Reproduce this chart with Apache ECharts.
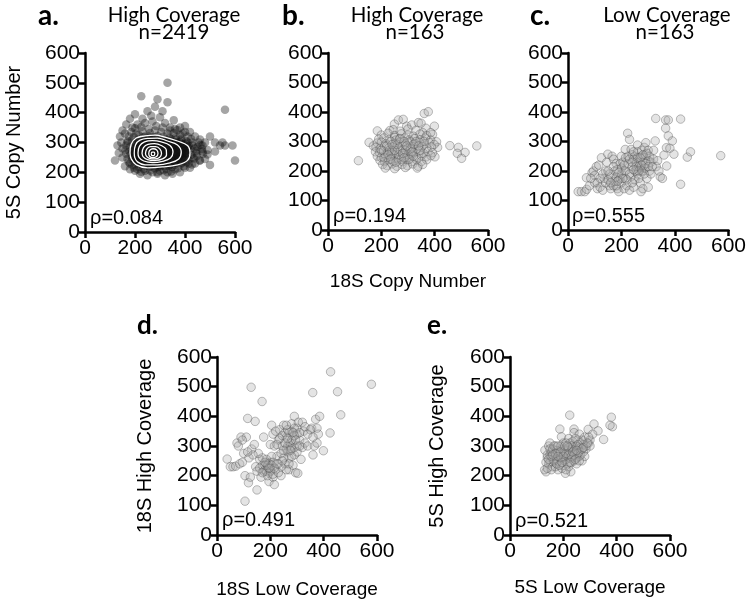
<!DOCTYPE html>
<html>
<head>
<meta charset="utf-8">
<script src="https://cdn.jsdelivr.net/npm/echarts@6.0.0/dist/echarts.min.js"></script>
<style>
  html, body { margin: 0; padding: 0; background: #fff; }
  #main { width: 749px; height: 604px; }
</style>
</head>
<body>
<div id="main"></div>
<script>
// panel a: 5S vs 18S, high coverage (representative subset of the 2419 points)
var pointsA = [
  [330,500],[225,455],[290,445],[330,435],[280,420],[560,410],[250,405],[310,405],[200,395],[265,390],
  [355,375],[180,380],[230,380],[300,385],[400,355],[380,350],[420,335],[165,360],[150,340],[140,320],
  [130,290],[120,240],[135,265],[145,300],[440,320],[460,310],[480,300],[500,320],[520,300],[540,290],
  [560,290],[590,290],[600,240],[490,260],[470,270],[460,240],[440,230],[500,225],[420,215],[380,200],
  [350,195],[320,190],[290,195],[250,190],[220,195],[200,205],[180,210],[160,220],[150,250],[170,300],
  [160,330],[190,350],[210,360],[240,365],[270,370],[320,365],[340,350],[360,345],[450,285],[430,300],
  [470,290],[520,270],[550,300],[480,245],[150,280],[175,235],[190,225],[210,210],[240,205],[270,200],
  [300,205],[330,200],[360,210],[400,215],[415,230],[430,250],[445,265],[410,320],[390,330],
  [200,348],[225,352],[255,345],[285,355],[310,350],[340,340],[370,342],
  [185,335],[205,330],[230,338],[260,332],[280,340],[305,335],[330,330],[355,332],[380,325],[400,335],
  [175,320],[195,318],[215,325],[240,320],[262,318],[290,322],[315,320],[338,315],[362,318],[385,310],[405,305],[425,312],
  [170,305],[188,308],[205,300],[228,306],[248,302],[270,308],[295,304],[318,300],[342,306],[365,300],[388,295],[410,300],[430,290],[455,300],
  [165,290],[180,285],[198,292],[218,288],[238,294],[258,286],[278,292],[300,288],[322,294],[345,286],[368,290],[392,284],[415,288],[438,280],[462,292],
  [162,275],[178,270],[196,278],[214,272],[232,280],[252,274],[272,278],[292,270],[312,276],[334,272],[356,280],[378,274],[400,270],[422,276],[445,272],[468,278],[490,275],
  [165,262],[182,258],[200,264],[218,256],[236,262],[255,258],[275,264],[295,256],[315,262],[337,258],[358,264],[380,256],[402,262],[425,258],[448,255],[472,262],
  [170,245],[188,248],[206,242],[224,250],[244,244],[264,248],[284,242],[304,250],[326,244],[348,248],[370,242],[392,248],[414,242],[436,246],[458,240],
  [180,230],[198,234],[216,228],[236,232],[256,226],[276,234],[296,228],[318,232],[340,226],[362,232],[384,228],[406,234],[428,226],
  [195,215],[215,218],[235,212],[258,218],[280,214],[302,220],[325,212],[348,218],[372,214],[395,220],
  [225,202],[260,206],[290,200],[315,207],[345,203],
  [200,250],[215,265],[225,280],[240,295],[255,305],[270,295],[285,280],[300,265],[315,250],[330,240],
  [345,255],[360,270],[375,285],[390,265],[400,250],[385,240],[365,235],[340,262],[320,280],[305,298],
  [290,310],[270,315],[250,290],[235,270],[220,245],[210,235],[230,230],[250,238],[270,245],[290,250],
  [310,235],[330,292],[350,300],[360,250],[380,300],[395,280],[405,265],[205,285],[215,300],[235,310],
  [260,270],[280,260],[300,280],[320,265],[340,275],[355,290],[370,260],[250,255],[265,285],[280,300],
  [295,240],[245,225],[225,255],[210,272],[195,262],[325,305],[345,295],[365,310],[260,240],[275,230],
  [300,225],[325,228],[350,238],[372,248],[390,255],[240,283],[255,300],[285,268],[310,285],[330,255],
  [345,245],[220,300],[200,240],[410,275],[395,295],
  [190,270],[205,258],[215,282],[228,295],[242,305],[258,312],[275,305],[292,296],[308,290],[322,298],
  [338,305],[352,280],[366,275],[380,270],[395,260],[388,248],[372,238],[356,242],[338,235],[318,240],
  [298,232],[278,238],[258,232],[238,245],[222,238],[206,248],[196,280],[212,292],[230,262],[248,270],
  [268,262],[288,258],[305,270],[325,272],[345,268],[362,285],[378,292],[395,285],[410,260],[402,240],
  [385,232],[360,225],[335,222],[310,226],[285,222],[262,228],[240,230],[220,232],[205,240],[192,255],
  [200,300],[215,310],[232,318],[255,320],[280,318],[300,312],[320,310],[345,312],[365,300],[385,305],
  [405,295],[250,280],[265,295],[285,290],[300,275],[318,258],[332,248],[350,258],[368,265],[375,250],
  [390,275],[240,255],[255,248],[272,252],[290,268],[310,262],[328,282],[342,290],[356,298],[232,285],
  [218,270],[203,265],[248,298],[262,305],[278,282],[295,300],[312,305],[330,265],[347,278],[363,255],
  [380,262],[398,270],[410,285],[226,228],[244,222],[266,220],[292,218],[318,220],[342,226],[364,232]
];

// density contours of panel a, outer to inner
var contourA1 = [[180,265],[185,295],[205,315],[240,322],[280,325],[320,318],[370,305],[410,290],[420,265],[410,240],[370,225],[310,218],[250,215],[205,225],[185,245],[180,265]];
var contourA2 = [[197,265],[202,292],[220,308],[255,314],[290,315],[330,305],[370,292],[385,268],[375,245],[340,232],[290,225],[240,225],[210,235],[199,250],[197,265]];
var contourA3 = [[212,265],[218,288],[238,302],[270,306],[305,302],[340,290],[352,268],[342,248],[310,237],[270,233],[235,238],[216,250],[212,265]];
var contourA4 = [[228,264],[234,283],[252,294],[278,296],[305,290],[325,275],[326,258],[310,245],[280,240],[250,243],[233,252],[228,264]];
var contourA5 = [[242,263],[247,278],[262,286],[283,286],[300,278],[306,263],[298,250],[278,245],[258,247],[245,255],[242,263]];
var contourA6 = [[255,263],[259,274],[272,279],[287,275],[292,263],[285,252],[270,249],[258,254],[255,263]];
var contourA7 = [[265,262],[268,268],[276,268],[279,262],[275,256],[268,256],[265,262]];

// panel b: 5S vs 18S high coverage, n=163
var pointsB = [
  [114,235],[185,336],[154,297],[170,285],[232,337],[249,359],[264,373],[282,375],[295,352],[314,356],
  [339,364],[349,362],[361,395],[376,401],[367,345],[399,352],[392,324],[407,299],[411,280],[401,248],
  [457,286],[489,280],[485,260],[514,263],[501,243],[558,285],
  [245,340],[270,335],[300,342],[330,338],[355,330],
  [200,322],[225,328],[250,320],[275,326],[300,322],[320,318],[345,325],[370,320],[385,330],
  [190,308],[210,312],[230,306],[250,314],[268,308],[288,312],[305,305],[325,310],[345,306],[365,312],[385,305],
  [185,295],[200,298],[218,292],[235,300],[252,294],[270,298],[290,292],[308,299],[326,293],[344,297],[362,292],[380,296],[398,290],
  [180,280],[195,276],[212,284],[228,278],[245,282],[262,276],[280,284],[298,278],[316,282],[334,276],[352,283],[370,278],[388,282],
  [178,265],[193,262],[208,268],[224,262],[240,268],[256,262],[272,268],[288,262],[306,268],[322,262],[340,266],[358,260],[375,266],[392,262],
  [185,250],[200,246],[216,252],[232,248],[248,254],[265,246],[282,252],[298,248],[315,254],[332,246],[350,252],[368,248],[386,252],
  [195,236],[212,232],[228,238],[245,232],[262,238],[280,232],[297,238],[315,232],[332,238],[350,232],[370,238],
  [205,222],[222,218],[240,224],[258,216],[278,222],[298,218],[318,224],[338,216],[355,222],
  [215,210],[250,208],[290,212],[335,210],
  [260,290],[285,300],[240,258],[300,255],[320,290],[230,270],[275,240],[310,275],[345,270],[255,305],
  [220,285],[265,255],[290,270],[330,300],[210,245],[250,270],[305,240],[360,300],[280,260],[240,290],
  [225,255],[320,250],[270,310],[200,270],[340,285],[295,285],[255,230],[315,265],[235,240],[285,245]
];

// panel c: 5S vs 18S low coverage, n=163
var pointsC = [
  [38,130],[50,130],[63,130],[70,138],[69,177],[80,150],[90,195],[95,200],[100,185],[106,215],
  [110,160],[110,140],[115,220],[120,145],[125,245],[130,135],[135,175],[140,200],[140,160],[145,230],
  [149,257],[155,150],[160,140],[160,180],[165,250],[170,240],[170,150],[175,200],[175,165],[180,225],
  [180,180],[185,140],[190,170],[190,130],[195,175],[195,225],[200,160],[200,210],[200,250],[200,190],
  [205,230],[210,200],[210,140],[214,273],[215,175],[215,245],[215,200],[220,150],[223,328],[225,225],
  [225,250],[230,307],[230,135],[235,180],[236,273],[240,255],[240,215],[245,145],[245,240],[250,200],
  [250,170],[250,250],[255,230],[255,200],[260,288],[260,265],[260,190],[265,175],[265,215],[265,230],
  [270,160],[270,210],[273,130],[275,250],[275,200],[275,270],[280,140],[280,200],[280,230],[285,210],
  [285,245],[285,280],[290,255],[290,210],[291,296],[295,175],[300,270],[300,145],[300,235],[305,200],
  [305,250],[310,190],[310,230],[320,270],[320,240],[326,302],[328,378],[330,215],[335,235],[340,200],
  [345,180],[353,175],[359,254],[365,345],[365,373],[368,279],[369,217],[375,319],[375,373],[381,277],
  [390,302],[396,257],[421,376],[421,155],[446,247],[458,265],[571,252],[130,190],[150,170],[185,205],
  [230,190],[245,265],[260,245],[270,245],[290,225],[240,160],[220,170],[180,150],[155,190],[120,175],
  [100,160],[85,175],[275,220],[285,190],[255,215],[295,260],[265,200],[230,240],[210,220],[190,195],
  [170,215],[150,200],[245,205],[280,255],[300,215],[315,215],[240,230],[205,175],[185,165],[160,160]
];

// panel d: 18S high coverage vs 18S low coverage
var pointsD = [
  [38,256],[50,230],[60,230],[70,232],[75,310],[80,300],[85,240],[90,330],[95,245],[100,275],
  [105,200],[105,114],[110,330],[115,393],[118,176],[120,260],[125,195],[128,498],[130,290],[140,305],
  [143,383],[145,230],[150,152],[150,215],[160,255],[165,195],[169,450],[170,235],[175,330],[180,220],
  [185,240],[190,225],[195,210],[195,180],[200,305],[200,245],[205,370],[210,195],[210,340],[215,170],
  [220,220],[225,265],[230,320],[235,355],[240,200],[245,300],[250,370],[255,240],[260,330],[265,280],
  [270,260],[270,220],[275,300],[280,350],[280,375],[285,330],[290,400],[290,270],[295,210],[300,360],
  [303,208],[305,380],[310,320],[315,255],[320,295],[325,350],[330,310],[340,300],[355,360],[359,480],
  [360,270],[365,300],[370,390],[375,360],[380,340],[385,400],[399,284],[424,344],[426,550],[452,483],
  [464,405],[579,508],[175,215],[185,215],[200,225],[195,240],[185,255],[205,265],[215,300],[225,305],
  [235,325],[245,335],[255,345],[265,355],[270,345],[280,320],[290,295],[285,235],[260,220],[250,260],
  [240,275],[230,240],[210,245],[170,260],[160,225],[155,275],[135,270],[115,280],[95,320],[200,215],
  [190,200],[210,205],[180,235],[300,340],[290,360],[275,310],[265,300],[260,290],[250,285],[240,230],
  [230,210],[220,350],[300,300],[310,345],[320,380],[330,365],[290,335],[280,290],[270,240],[300,280],
  [260,370],[350,355],[340,340],[375,310],[360,330],[190,235],[205,235],[215,225],[180,245],[170,210],
  [285,345],[295,320],[275,285],[255,310],[225,240],[195,225],[310,300],[280,265],[265,325],[245,250]
];

// panel e: 5S high coverage vs 5S low coverage
var pointsE = [
  [224,404],[380,397],[384,365],[375,370],[315,374],[293,356],[330,351],[351,322],[187,357],[240,357],
  [193,331],[131,286],[135,213],[228,213],[208,208],[130,220],[140,260],[145,300],[150,310],[150,245],
  [155,280],[160,230],[165,270],[170,300],[175,255],[180,220],[190,240],[195,280],[200,310],[205,250],
  [210,290],[215,265],[220,230],[220,325],[225,310],[230,280],[235,260],[240,345],[245,300],[250,240],
  [255,320],[260,280],[265,295],[270,250],[275,305],[280,330],[285,290],[295,310],[300,320],[310,340],
  [140,270],[150,270],[160,290],[170,265],[180,280],[185,260],[195,265],[205,270],[215,285],[225,280],
  [235,295],[245,275],[255,290],[265,310],[170,230],[180,250],[200,235],[210,255],[230,245],[260,265],
  [250,300],[240,285],[200,290],[190,300],[160,255],[145,240],[155,220],[175,240],[195,225],[215,240],
  [225,260],[235,315],[275,280],[285,300],[270,320],[260,340],[230,300],[210,310],[190,260],[165,250],
  [140,225],[300,300],[295,330],[250,260],[240,250],[220,270],[210,220],[185,235],[175,285],[155,265],
  [135,245],[265,270],[280,265],[245,325],[255,305],[150,290],[165,300],[180,300],[200,265],[220,295],
  [240,270],[255,275],[270,290],[230,265],[210,275],[190,280],[170,275],[145,255],[160,270],[205,300],
  [225,245],[245,255],[260,250],[275,295],[290,310],[180,265],[195,245],[215,300],[235,280],[250,285]
];

var fontNum = "'Liberation Sans', Arial, sans-serif";
var fontTitle = "Lato, 'Open Sans', sans-serif";

var chartDom = document.getElementById('main');
var myChart = echarts.init(chartDom, null, { renderer: 'canvas' });

function makeX(i, size, name, gap) {
  return {
    type: 'value', gridIndex: i, min: 0, max: 600, interval: 200,
    axisLine: { show: true, onZero: false, lineStyle: { color: '#000', width: 2.5 } },
    axisTick: { show: true, length: 6, lineStyle: { color: '#000', width: 2.5 } },
    axisLabel: { color: '#000', fontSize: size, fontFamily: fontNum, margin: 6 },
    splitLine: { show: false },
    name: name, nameLocation: 'middle', nameGap: gap,
    nameTextStyle: { color: '#000', fontSize: 19, fontFamily: fontNum }
  };
}
function makeY(i, size, name, gap) {
  return {
    type: 'value', gridIndex: i, min: 0, max: 600, interval: 100,
    axisLine: { show: true, onZero: false, lineStyle: { color: '#000', width: 2.5 } },
    axisTick: { show: true, length: 6, lineStyle: { color: '#000', width: 2.5 } },
    axisLabel: { color: '#000', fontSize: size, fontFamily: fontNum, margin: 5 },
    splitLine: { show: false },
    name: name, nameLocation: 'middle', nameGap: gap,
    nameTextStyle: { color: '#000', fontSize: 20, fontFamily: fontNum }
  };
}
function lightScatter(i, data) {
  return {
    type: 'scatter', xAxisIndex: i, yAxisIndex: i, data: data, symbolSize: 8.5,
    itemStyle: { color: 'rgba(170,170,170,0.4)', borderColor: 'rgba(70,70,70,0.55)', borderWidth: 0.8 }
  };
}
function contour(data) {
  return {
    type: 'line', xAxisIndex: 0, yAxisIndex: 0, data: data, showSymbol: false, symbol: 'none',
    smooth: 0.4, z: 5, lineStyle: { color: '#fff', width: 1.3 }
  };
}
function label(text, x, y, font, align) {
  return { type: 'text', x: x, y: y, style: { text: text, font: font, fill: '#000', align: align || 'left', verticalAlign: 'middle' } };
}

var option = {
  animation: false,
  backgroundColor: '#fff',
  grid: [
    { left: 85, top: 53, width: 150, height: 179 },
    { left: 328, top: 53, width: 160, height: 177 },
    { left: 568, top: 53, width: 162, height: 177 },
    { left: 217, top: 357, width: 160, height: 178 },
    { left: 510, top: 357, width: 160, height: 178 }
  ],
  xAxis: [
    makeX(0, 21, '', 0),
    makeX(1, 21, '18S Copy Number', 42),
    makeX(2, 21, '', 0),
    makeX(3, 21, '18S Low Coverage', 45),
    makeX(4, 21, '5S Low Coverage', 43)
  ],
  yAxis: [
    makeY(0, 21, '5S Copy Number', 61),
    makeY(1, 21, '', 0),
    makeY(2, 21, '', 0),
    makeY(3, 21, '18S High Coverage', 62),
    makeY(4, 21, '5S High Coverage', 63)
  ],
  graphic: [
    label('a.', 38, 16, 'bold 28px ' + fontTitle),
    label('b.', 282, 16, 'bold 28px ' + fontTitle),
    label('c.', 530, 16, 'bold 28px ' + fontTitle),
    label('d.', 137, 326, 'bold 26px ' + fontTitle),
    label('e.', 427, 326, 'bold 26px ' + fontTitle),
    label('High Coverage', 174, 15, '20.5px ' + fontTitle, 'center'),
    label('n=2419', 174, 32, '20.5px ' + fontTitle, 'center'),
    label('High Coverage', 417, 15, '20.5px ' + fontTitle, 'center'),
    label('n=163', 415, 32, '20.5px ' + fontTitle, 'center'),
    label('Low Coverage', 667, 15, '20.5px ' + fontTitle, 'center'),
    label('n=163', 665, 32, '20.5px ' + fontTitle, 'center'),
    label('\u03c1=0.084', 90, 218, '20px ' + fontNum),
    label('\u03c1=0.194', 333, 216, '20px ' + fontNum),
    label('\u03c1=0.555', 572, 216, '20px ' + fontNum),
    label('\u03c1=0.491', 222, 520, '20px ' + fontNum),
    label('\u03c1=0.521', 515, 521, '20px ' + fontNum)
  ],
  series: [
    {
      type: 'scatter', xAxisIndex: 0, yAxisIndex: 0, data: pointsA, symbolSize: 8.5,
      itemStyle: { color: 'rgba(15,15,15,0.47)' }
    },
    contour(contourA1), contour(contourA2), contour(contourA3), contour(contourA4),
    contour(contourA5), contour(contourA6), contour(contourA7),
    lightScatter(1, pointsB),
    lightScatter(2, pointsC),
    lightScatter(3, pointsD),
    lightScatter(4, pointsE)
  ]
};

myChart.setOption(option);
</script>
</body>
</html>
